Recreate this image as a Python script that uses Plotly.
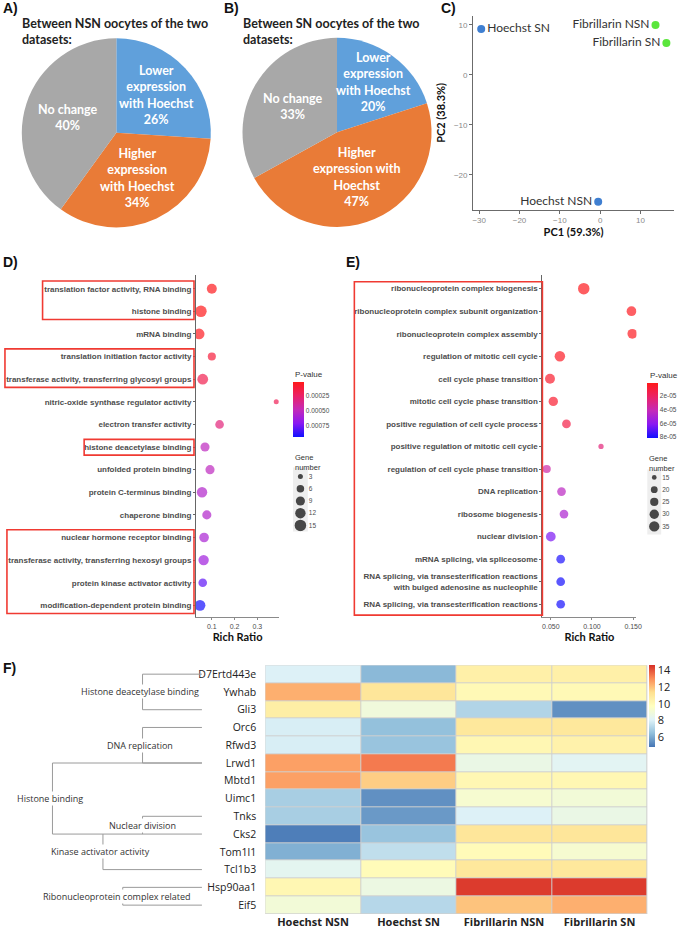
import math
import plotly.graph_objects as go

W, H = 685, 929

# ---------------- data ----------------
pieA_labels = ["Lower<br>expression<br>with Hoechst", "Higher<br>expression<br>with Hoechst", "No change"]
pieA_values = [26, 34, 40]
pieB_labels = ["Lower<br>expression<br>with Hoechst", "Higher<br>expression with<br>Hoechst", "No change"]
pieB_values = [20, 47, 33]
pie_colors = ["#60A0DB", "#E97B37", "#A8A8A8"]

pca_samples = ["Hoechst NSN", "Hoechst SN", "Fibrillarin NSN", "Fibrillarin SN"]
pca_pc1 = [-0.5, -29.5, 13.7, 16.4]
pca_pc2 = [-25.4, 9.2, 10.0, 6.4]
pca_colors = ["#3F7FD1", "#3F7FD1", "#5BE63C", "#5BE63C"]
pca_textpos = ["middle left", "middle right", "middle left", "middle left"]

goD_terms = [
    "translation factor activity, RNA binding",
    "histone binding",
    "mRNA binding",
    "translation initiation factor activity",
    "transferase activity, transferring glycosyl groups",
    "nitric-oxide synthase regulator activity",
    "electron transfer activity",
    "histone deacetylase binding",
    "unfolded protein binding",
    "protein C-terminus binding",
    "chaperone binding",
    "nuclear hormone receptor binding",
    "transferase activity, transferring hexosyl groups",
    "protein kinase activator activity",
    "modification-dependent protein binding",
]
goD_rich = [0.100, 0.052, 0.044, 0.100, 0.060, 0.383, 0.134, 0.070, 0.092, 0.057, 0.078, 0.066, 0.064, 0.060, 0.048]
goD_pvalue = [0.00003, 0.00002, 0.00004, 0.00012, 0.00018, 0.00020, 0.00030, 0.00050, 0.00050,
              0.00055, 0.00055, 0.00058, 0.00062, 0.00078, 0.00092]
goD_genes = [11, 15, 13, 7, 13, 3, 8, 9, 9, 12, 9, 10, 12, 8, 13]
goD_boxes = [("translation factor activity, RNA binding", "histone binding"),
             ("translation initiation factor activity", "transferase activity, transferring glycosyl groups"),
             ("histone deacetylase binding", "histone deacetylase binding"),
             ("nuclear hormone receptor binding", "modification-dependent protein binding")]
legD_values = [3, 6, 9, 12, 15]
pvD_ticks = [0.00025, 0.00050, 0.00075]

goE_terms = [
    "ribonucleoprotein complex biogenesis",
    "ribonucleoprotein complex subunit organization",
    "ribonucleoprotein complex assembly",
    "regulation of mitotic cell cycle",
    "cell cycle phase transition",
    "mitotic cell cycle phase transition",
    "positive regulation of cell cycle process",
    "positive regulation of mitotic cell cycle",
    "regulation of cell cycle phase transition",
    "DNA replication",
    "ribosome biogenesis",
    "nuclear division",
    "mRNA splicing, via spliceosome",
    "RNA splicing, via transesterification reactions<br>with bulged adenosine as nucleophile",
    "RNA splicing, via transesterification reactions",
]
goE_rich = [0.090, 0.148, 0.149, 0.061, 0.049, 0.053, 0.069, 0.111, 0.045, 0.063, 0.066, 0.050, 0.062, 0.062, 0.062]
goE_pvalue = [1e-6, 2e-6, 2e-6, 3e-6, 5e-6, 6e-6, 1.2e-5, 2.5e-5, 3.6e-5, 4.4e-5, 4.9e-5, 6.3e-5, 7.9e-5, 8e-5, 8e-5]
goE_genes = [42, 32, 32, 36, 33, 30, 27, 16, 25, 27, 27, 32, 27, 27, 27]
legE_values = [15, 20, 25, 30, 35]
pvE_ticks = [2e-05, 4e-05, 6e-05, 8e-05]
pvE_ticktext = ["2e-05", "4e-05", "6e-05", "8e-05"]

hm_genes = ["D7Ertd443e", "Ywhab", "Gli3", "Orc6", "Rfwd3", "Lrwd1", "Mbtd1", "Uimc1", "Tnks",
            "Cks2", "Tom1l1", "Tcl1b3", "Hsp90aa1", "Eif5"]
hm_samples = ["Hoechst NSN", "Hoechst SN", "Fibrillarin NSN", "Fibrillarin SN"]
hm_hoechst_nsn = [8.0, 12.3, 10.6, 7.9, 7.9, 12.6, 12.6, 6.9, 6.9, 5.0, 6.1, 8.3, 10.1, 9.0]
hm_hoechst_sn = [6.3, 11.0, 8.9, 6.5, 6.6, 13.3, 11.7, 5.4, 5.6, 6.6, 7.4, 9.9, 8.7, 7.2]
hm_fib_nsn = [10.5, 10.0, 7.1, 10.9, 10.1, 8.6, 10.1, 9.2, 8.0, 11.0, 9.9, 10.9, 14.4, 11.9]
hm_fib_sn = [10.5, 10.0, 5.4, 10.9, 10.4, 8.2, 10.1, 9.0, 8.6, 11.0, 9.2, 10.9, 14.4, 12.3]
hm_ticks = [6, 8, 10, 12, 14]

tree_groups = [
    # label, rows spanned by bracket, rows with horizontal branch, bracket x (px), label x (px)
    ("Histone deacetylase binding", ("D7Ertd443e", "Gli3"), ["D7Ertd443e", "Gli3"], 143, 140),
    ("DNA replication", ("Orc6", "Lrwd1"), ["Orc6", "Lrwd1"], 143, 140),
    ("Histone binding", ("Lrwd1", "Cks2"), ["Lrwd1", "Cks2"], 52, 50),
    ("Nuclear division", ("Tnks", "Cks2"), ["Tnks"], 143, 143),
    ("Kinase activator activity", ("Cks2", "Tcl1b3"), ["Tcl1b3"], 103, 101),
    ("Ribonucleoprotein complex related", ("Hsp90aa1", "Eif5"), ["Hsp90aa1", "Eif5"], 123, 117),
]


def px(v):
    return v / W


def py(v):
    return 1 - v / H


def bubble_D(n):
    return 2.5 + 2.5 * (n - 2) ** 0.5


def bubble_E(n):
    return 2.3 + 1.71 * (n - 13) ** 0.5


pv_scale = [[0.0, "#1010FF"], [0.25, "#8A18F2"], [0.5, "#C42AB8"], [0.75, "#EB2266"], [1.0, "#FF1A1A"]]
hm_scale = [[0, "#4575B4"], [1 / 6, "#91BFDB"], [2 / 6, "#E0F3F8"], [3 / 6, "#FFFFBF"],
            [4 / 6, "#FEE090"], [5 / 6, "#FC8D59"], [1, "#D73027"]]

fig = go.Figure()
annotations = []

# ---------------- A & B pies ----------------
pie_font = dict(family="Lato", size=12.5, color="white", weight="bold")
pies = [
    (pieA_values, pieA_labels, (21, 212), (38, 228), [0.58, 0.52, 0.54]),
    (pieB_values, pieB_labels, (244, 435), (37, 228), [0.65, 0.51, 0.54]),
]
for vals, labs, (x0, x1), (y0, y1), fracs in pies:
    fig.add_trace(go.Pie(
        values=vals, labels=labs, sort=False, direction="clockwise", rotation=0,
        marker=dict(colors=pie_colors, line=dict(width=0)), textinfo="none",
        domain=dict(x=[px(x0), px(x1)], y=[py(y1), py(y0)]),
        showlegend=False, hoverinfo="skip"))
    cx, cy, r = (x0 + x1) / 2, (y0 + y1) / 2, min(x1 - x0, y1 - y0) / 2
    total, cum = sum(vals), 0
    for v, lab, f in zip(vals, labs, fracs):
        ang = (cum + v / 2) / total * 2 * math.pi
        cum += v
        annotations.append(dict(text="%s<br>%d%%" % (lab, v), x=px(cx + r * f * math.sin(ang)),
                                y=py(cy - r * f * math.cos(ang)), xref="paper", yref="paper",
                                xanchor="center", yanchor="middle", align="center",
                                showarrow=False, font=pie_font))

# ---------------- C PCA ----------------
fig.add_trace(go.Scatter(
    x=pca_pc1, y=pca_pc2, mode="markers+text", text=pca_samples, textposition=pca_textpos,
    textfont=dict(family="Lato", size=12, color="#333333"), cliponaxis=False,
    marker=dict(size=8, color=pca_colors), xaxis="x", yaxis="y",
    showlegend=False, hoverinfo="skip"))

# ---------------- D dot plot ----------------
fig.add_trace(go.Scatter(
    x=goD_rich, y=goD_terms, xaxis="x2", yaxis="y2", mode="markers",
    marker=dict(size=[bubble_D(n) for n in goD_genes], color=[-p for p in goD_pvalue],
                colorscale=pv_scale, cmin=-0.00093, cmax=-0.000017, line=dict(width=0),
                colorbar=dict(x=px(295), xanchor="left", y=py(382), yanchor="top",
                              len=55, lenmode="pixels", thickness=11, thicknessmode="pixels",
                              outlinewidth=0, tickvals=[-v for v in pvD_ticks],
                              ticktext=["%.5f" % v for v in pvD_ticks], ticks="",
                              tickfont=dict(size=6.5, color="#4d4d4d"), xpad=0, ypad=0)),
    showlegend=False, hoverinfo="skip"))

fig.add_trace(go.Scatter(
    x=[0] * len(legD_values), y=[str(v) for v in legD_values], xaxis="x4", yaxis="y4", mode="markers",
    marker=dict(size=[bubble_D(v) for v in legD_values], color="black", line=dict(width=0)),
    showlegend=False, hoverinfo="skip"))

# ---------------- E dot plot ----------------
fig.add_trace(go.Scatter(
    x=goE_rich, y=goE_terms, xaxis="x3", yaxis="y3", mode="markers",
    marker=dict(size=[bubble_E(n) for n in goE_genes], color=[-p for p in goE_pvalue],
                colorscale=pv_scale, cmin=-8.1e-5, cmax=0.0, line=dict(width=0),
                colorbar=dict(x=px(653), xanchor="left", y=py(383), yanchor="top",
                              len=55, lenmode="pixels", thickness=11, thicknessmode="pixels",
                              outlinewidth=0, tickvals=[-v for v in pvE_ticks],
                              ticktext=pvE_ticktext, ticks="",
                              tickfont=dict(size=6.5, color="#4d4d4d"), xpad=0, ypad=0)),
    showlegend=False, hoverinfo="skip"))

fig.add_trace(go.Scatter(
    x=[0] * len(legE_values), y=[str(v) for v in legE_values], xaxis="x5", yaxis="y5", mode="markers",
    marker=dict(size=[bubble_E(v) for v in legE_values], color="black", line=dict(width=0)),
    showlegend=False, hoverinfo="skip"))

# ---------------- F heatmap ----------------
hm_z = [[a, b, c, d] for a, b, c, d in zip(hm_hoechst_nsn, hm_hoechst_sn, hm_fib_nsn, hm_fib_sn)]
fig.add_trace(go.Heatmap(
    z=hm_z, x=hm_samples, y=hm_genes, xaxis="x6", yaxis="y6", colorscale=hm_scale,
    zmin=4.8, zmax=14.6, xgap=1, ygap=1,
    colorbar=dict(x=px(655), xanchor="left", y=py(666), yanchor="top", len=82, lenmode="pixels",
                  thickness=6, thicknessmode="pixels", outlinewidth=0, tickvals=hm_ticks,
                  ticks="", tickfont=dict(family="Open Sans", size=11, color="#222"), xpad=0, ypad=0),
    showlegend=False, hoverinfo="skip"))

# ---------------- layout ----------------
axis_common = dict(showgrid=False, zeroline=False)
lab_font = dict(family="Liberation Sans", size=8, color="#4d4d4d", weight="bold")
tick_small = dict(family="Liberation Sans", size=7, color="#4d4d4d")
axt_font = dict(family="Lato", size=11, weight="bold", color="#111")

fig.update_layout(
    width=W, height=H, margin=dict(l=0, r=0, t=0, b=0),
    paper_bgcolor="white", plot_bgcolor="white",
    font=dict(family="Liberation Sans", color="#222"),
    xaxis=dict(domain=[px(477), px(680)], range=[-31.5, 18.3], anchor="y", showline=True,
               linecolor="#6b6b6b", ticks="outside", ticklen=3, tickcolor="#6b6b6b",
               tickvals=[-30, -20, -10, 0, 10], tickfont=dict(size=8, color="#8a8a8a"),
               title=dict(text="PC1 (59.3%)", font=axt_font, standoff=0), **axis_common),
    yaxis=dict(domain=[py(210), py(16)], range=[-27, 11.8], anchor="x", showline=True,
               linecolor="#6b6b6b", ticks="outside", ticklen=3, tickcolor="#6b6b6b",
               tickvals=[-20, -10, 0, 10], tickfont=dict(size=8, color="#8a8a8a"),
               title=dict(text="PC2 (38.3%)", font=axt_font, standoff=6), **axis_common),
    xaxis2=dict(domain=[px(197), px(281)], range=[0.0304, 0.3957], anchor="y2", showline=True,
                linecolor="#8a8a8a", ticks="outside", ticklen=2, tickcolor="#8a8a8a",
                tickvals=[0.1, 0.2, 0.3], tickfont=tick_small,
                title=dict(text="Rich Ratio", font=axt_font, standoff=4), **axis_common),
    yaxis2=dict(domain=[py(618), py(275)], type="category", categoryarray=goD_terms,
                range=[14.53, -0.62], anchor="x2", showline=True, linecolor="#666",
                ticks="outside", ticklen=2, tickcolor="#666", tickfont=lab_font, **axis_common),
    xaxis3=dict(domain=[px(547), px(642)], range=[0.0398, 0.154], anchor="y3", showline=True,
                linecolor="#8a8a8a", ticks="outside", ticklen=2, tickcolor="#8a8a8a",
                tickvals=[0.05, 0.1, 0.15], ticktext=["0.050", "0.100", "0.150"], tickfont=tick_small,
                title=dict(text="Rich Ratio", font=axt_font, standoff=4), **axis_common),
    yaxis3=dict(domain=[py(618), py(275)], type="category", categoryarray=goE_terms,
                range=[14.58, -0.62], anchor="x3", showline=True, linecolor="#666",
                ticks="outside", ticklen=2, tickcolor="#666", tickfont=lab_font, **axis_common),
    xaxis4=dict(domain=[px(295), px(310)], range=[-1, 1], anchor="y4", visible=False),
    yaxis4=dict(domain=[py(532), py(468)], type="category", categoryarray=[str(v) for v in legD_values],
                range=[4.49, -0.73], anchor="x4", side="right", ticks="", showline=False,
                tickfont=dict(size=6.5, color="#4d4d4d"), **axis_common),
    xaxis5=dict(domain=[px(653), px(667)], range=[-1, 1], anchor="y5", visible=False),
    yaxis5=dict(domain=[py(535), py(470)], type="category", categoryarray=[str(v) for v in legE_values],
                range=[4.65, -0.65], anchor="x5", side="right", ticks="", showline=False,
                tickfont=dict(size=6.5, color="#4d4d4d"), **axis_common),
    xaxis6=dict(domain=[px(267), px(653)], type="category", categoryarray=hm_samples, range=[-0.5, 3.5],
                anchor="y6", showline=False, ticks="",
                tickfont=dict(family="Open Sans", size=11, weight="bold", color="#222"), **axis_common),
    yaxis6=dict(domain=[py(915), py(666)], type="category", categoryarray=hm_genes, range=[13.5, -0.5],
                anchor="x6", showline=False, ticks="outside", ticklen=6, tickcolor="rgba(0,0,0,0)",
                tickfont=dict(family="Open Sans", size=10.5, color="#222"), **axis_common),
)

shapes = []
# legend backgrounds
for xa, ya in [("x4", "y4"), ("x5", "y5")]:
    shapes.append(dict(type="rect", xref=xa + " domain", yref=ya + " domain", x0=0, x1=1, y0=0, y1=1,
                       fillcolor="#EEEEEE", line=dict(width=0), layer="below"))
# heatmap cell borders
shapes.append(dict(type="rect", xref="x6", yref="y6", x0=-0.5, x1=3.5, y0=-0.5, y1=13.5,
                   fillcolor="#CFCFCF", line=dict(color="#CFCFCF", width=1), layer="below"))
# red boxes D
box_left_D = {0: 42, 1: 4, 2: 84, 3: 6}
for k, (a, b) in enumerate(goD_boxes):
    ia, ib = goD_terms.index(a), goD_terms.index(b)
    shapes.append(dict(type="rect", xref="paper", yref="y2", x0=px(box_left_D[k]), x1=px(195),
                       y0=ia - 0.34, y1=ib + 0.36, line=dict(color="#F03A32", width=1.6),
                       fillcolor="rgba(0,0,0,0)"))
# red box E
shapes.append(dict(type="rect", xref="paper", yref="y3", x0=px(357), x1=px(547),
                   y0=-0.31, y1=len(goE_terms) - 1 + 0.48, line=dict(color="#F03A32", width=1.6),
                   fillcolor="rgba(0,0,0,0)"))
# tree lines for F
tree_color = "#9a9a9a"
for label, (ra, rb), hrows, xv, lx in tree_groups:
    ia, ib = hm_genes.index(ra), hm_genes.index(rb)
    shapes.append(dict(type="line", xref="paper", yref="y6", x0=px(xv), x1=px(xv), y0=ia, y1=ib,
                       line=dict(color=tree_color, width=1)))
    for r in hrows:
        ir = hm_genes.index(r)
        shapes.append(dict(type="line", xref="paper", yref="y6", x0=px(xv), x1=px(203), y0=ir, y1=ir,
                           line=dict(color=tree_color, width=1)))

letter_font = dict(family="Liberation Sans", size=14, color="#111", weight="bold")
for t, x, y in [("A)", 0, 8), ("B)", 223, 8), ("C)", 443, 8), ("D)", 0, 262), ("E)", 347, 262), ("F)", 0, 669)]:
    annotations.append(dict(text=t, x=px(x), y=py(y), xref="paper", yref="paper", xanchor="left",
                            yanchor="middle", showarrow=False, font=letter_font))
title_font = dict(family="Lato", size=12.5, color="#222", weight="bold")
for t, x in [("Between NSN oocytes of the two<br>datasets:", 19), ("Between SN oocytes of the two<br>datasets:", 242)]:
    annotations.append(dict(text=t, x=px(x), y=py(14), xref="paper", yref="paper", xanchor="left",
                            yanchor="top", align="left", showarrow=False, font=title_font))
small_title = dict(family="Liberation Sans", size=8, color="#333")
for t, x, y in [("P-value", 295, 375), ("P-value", 654, 376)]:
    annotations.append(dict(text=t, x=px(x), y=py(y), xref="paper", yref="paper", xanchor="left",
                            yanchor="middle", showarrow=False, font=small_title))
for x, y in [(295, 451), (653, 452)]:
    annotations.append(dict(text="Gene<br>number", x=px(x), y=py(y), xref="paper", yref="paper",
                            xanchor="left", yanchor="top", align="left", showarrow=False,
                            font=dict(family="Liberation Sans", size=7.5, color="#333")))
for label, (ra, rb), hrows, xv, lx in tree_groups:
    ia, ib = hm_genes.index(ra), hm_genes.index(rb)
    annotations.append(dict(text=label, x=px(lx), y=(ia + ib) / 2, xref="paper", yref="y6",
                            xanchor="center", yanchor="middle", showarrow=False, bgcolor="white",
                            borderpad=0, font=dict(family="Open Sans", size=9, color="#333")))

fig.update_layout(shapes=shapes, annotations=annotations)
fig.write_html("out.html", config={"displayModeBar": False},
               post_script="document.body.style.margin='0px';")
